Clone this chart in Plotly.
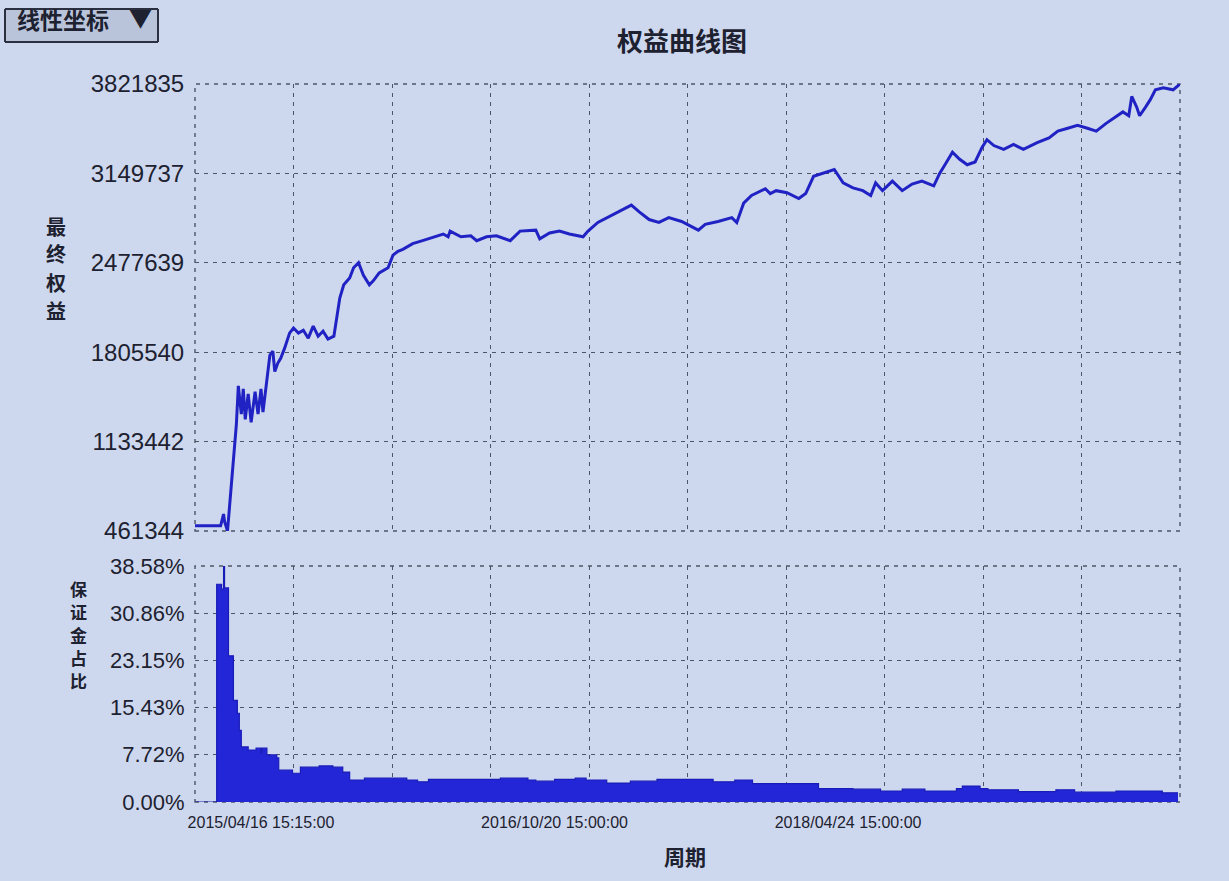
"""Equity curve with margin ratio panel (period index on x)."""

import plotly.graph_objects as go

# period index (0..1000 across the whole axis) and final equity
equity_period = [
    0, 26, 29, 30, 33, 42, 44, 47, 49, 51, 54, 57, 61, 64, 67, 69,
    76, 79, 81, 84, 87, 91, 96, 100, 105, 110, 115, 120, 125, 130, 135, 141,
    147, 151, 157, 161, 166, 171, 177, 181, 187, 196, 201, 206, 211, 221, 231, 241,
    252, 257, 259, 270, 280, 286, 296, 306, 320, 330, 346, 350, 360, 370, 380, 394,
    399, 409, 424, 443, 451, 461, 471, 481, 494, 504, 511, 518, 531, 545, 550, 557,
    565, 579, 584, 590, 601, 613, 620, 628, 638, 649, 658, 668, 678, 686, 691, 698,
    708, 718, 728, 738, 750, 756, 762, 769, 776, 784, 792, 799, 804, 811, 821, 831,
    841, 855, 867, 876, 886, 896, 906, 915, 925, 935, 942, 948, 951, 956, 959, 965,
    970, 975, 983, 993, 1000,
]
equity = [
    500000, 500000, 589000, 533000, 461344, 1263000, 1553000, 1340000, 1530000, 1301000,
    1492000, 1278000, 1508000, 1340000, 1530000, 1355000,
    1783000, 1813000, 1660000, 1722000, 1760000, 1836000, 1949000, 1987000, 1949000, 1971000,
    1911000, 2002000, 1926000, 1964000, 1904000, 1926000,
    2213000, 2312000, 2364000, 2440000, 2478000, 2383000, 2312000, 2342000, 2402000, 2440000,
    2535000, 2564000, 2579000, 2622000, 2644000, 2666000,
    2694000, 2673000, 2716000, 2673000, 2680000, 2644000, 2673000, 2680000, 2644000, 2716000,
    2723000, 2658000, 2702000, 2716000, 2694000, 2673000,
    2716000, 2781000, 2839000, 2911000, 2861000, 2803000, 2781000, 2817000, 2788000, 2752000,
    2723000, 2767000, 2788000, 2817000, 2781000, 2926000,
    2984000, 3034000, 2998000, 3020000, 3005000, 2961000, 2998000, 3128000, 3150000, 3179000,
    3078000, 3041000, 3020000, 2984000, 3078000, 3020000,
    3092000, 3020000, 3070000, 3092000, 3056000, 3150000, 3222000, 3309000, 3258000, 3215000,
    3236000, 3345000, 3403000, 3359000, 3330000, 3367000,
    3330000, 3381000, 3417000, 3468000, 3489000, 3511000, 3489000, 3468000, 3526000, 3576000,
    3612000, 3583000, 3728000, 3648000, 3583000, 3648000,
    3706000, 3778000, 3793000, 3778000, 3821835,
]

# margin ratio (%) - each value holds until the next period
margin_period = [
    0, 22, 27, 29, 30, 34, 39, 43, 45, 47, 54, 62, 67, 68, 73, 83,
    85, 99, 107, 126, 140, 150, 157, 172, 215, 226, 237, 310, 338, 346, 365, 386,
    397, 418, 442, 469, 526, 548, 566, 633, 668, 696, 718, 741, 773, 779, 797, 805,
    836, 874, 893, 935, 982, 998,
]
margin_pct = [
    0, 35.6, 34.8, 38.58, 35.0, 23.9, 16.6, 14.5, 11.7, 9.0, 8.5, 8.8, 8.0, 8.8, 7.7, 7.2,
    5.2, 4.7, 5.7, 5.9, 5.7, 4.9, 3.6, 3.9, 3.6, 3.3, 3.7, 3.9, 3.6, 3.4, 3.7, 3.9,
    3.6, 3.1, 3.4, 3.7, 3.3, 3.6, 3.0, 2.2, 2.1, 1.8, 2.1, 1.8, 2.2, 2.6, 2.2, 2.0,
    1.7, 2.0, 1.6, 1.8, 1.5, 1.5,
]

equity_ticks = [461344, 1133442, 1805540, 2477639, 3149737, 3821835]
margin_ticks = [0.0, 7.72, 15.43, 23.15, 30.86, 38.58]
period_tickvals = [67, 365, 663]
period_ticktext = ["2015/04/16 15:15:00", "2016/10/20 15:00:00", "2018/04/24 15:00:00"]
grid_vals = list(range(0, 1001, 100))

BG = "#cdd8ee"
INK = "#1d2130"
GRID = "#4d5566"
BLUE = "#2326d6"
CJK = "Noto Sans CJK SC"
DASH = "4px,5px"
W, H = 1229, 881
L_PX, R_PX, T_PX, B_PX = 195, 1180, 84, 802

fig = go.Figure()
fig.add_trace(go.Scatter(
    x=equity_period, y=equity, mode="lines",
    line={"color": "#2022c4", "width": 3},
    xaxis="x", yaxis="y", name="最终权益",
))
fig.add_trace(go.Scatter(
    x=margin_period, y=margin_pct, mode="lines",
    line={"color": "#1a1cb8", "width": 1.2, "shape": "hv"},
    fill="tozeroy", fillcolor=BLUE,
    xaxis="x2", yaxis="y2", name="保证金占比",
))

grid_minor = {
    "tickvals": grid_vals, "showgrid": True, "gridcolor": GRID,
    "griddash": DASH, "gridwidth": 1.4, "ticks": "",
}
xcommon = dict(range=[0, 1000], showline=False, zeroline=False, showgrid=False,
               minor=grid_minor)
plot_h = B_PX - T_PX
plot_w = R_PX - L_PX
top_lo = (B_PX - 531) / plot_h
bot_hi = (B_PX - 566) / plot_h

fig.update_layout(
    width=W, height=H,
    margin={"l": L_PX, "r": W - R_PX, "t": T_PX, "b": H - B_PX, "pad": 0,
            "autoexpand": False},
    paper_bgcolor=BG, plot_bgcolor=BG,
    showlegend=False,
    font={"family": "Liberation Sans, Arial, sans-serif", "color": INK},
    title={
        "text": "<b>权益曲线图</b>", "x": 682 / W, "xref": "container",
        "y": 1 - 42 / H, "yref": "container", "xanchor": "center", "yanchor": "middle",
        "font": {"family": CJK, "size": 26, "color": INK},
    },
    xaxis=dict(xcommon, domain=[0, 1], anchor="y", showticklabels=False),
    xaxis2=dict(
        xcommon, domain=[0, 1], anchor="y2",
        tickmode="array", tickvals=period_tickvals, ticktext=period_ticktext,
        ticks="outside", ticklen=6, tickcolor="rgba(0,0,0,0)",
        tickfont={"size": 16},
    ),
    yaxis=dict(
        domain=[top_lo, 1], anchor="x", range=[equity_ticks[0], equity_ticks[-1]],
        tickmode="array", tickvals=equity_ticks, ticktext=[str(v) for v in equity_ticks],
        showgrid=True, gridcolor=GRID, griddash=DASH, gridwidth=1.4,
        zeroline=False, showline=False, ticks="outside", ticklen=5,
        tickcolor="rgba(0,0,0,0)", tickfont={"size": 24},
    ),
    yaxis2=dict(
        domain=[0, bot_hi], anchor="x2", range=[0, margin_ticks[-1]],
        tickmode="array", tickvals=margin_ticks, ticktext=[f"{v:.2f}%" for v in margin_ticks],
        showgrid=True, gridcolor=GRID, griddash=DASH, gridwidth=1.4,
        zeroline=False, showline=False, ticks="outside", ticklen=5,
        tickcolor="rgba(0,0,0,0)", tickfont={"size": 22},
    ),
    updatemenus=[{
        "type": "dropdown", "direction": "down", "showactive": True,
        "x": (3 - L_PX) / plot_w, "xanchor": "left",
        "y": 1 + (T_PX - 7) / plot_h, "yanchor": "top",
        "pad": {"l": 0, "r": 0, "t": 0, "b": 0},
        "bgcolor": "#b9c4da", "bordercolor": "#2b3040", "borderwidth": 2,
        "font": {"family": CJK, "size": 23, "color": INK},
        "buttons": [
            {"label": "<b>线性坐标</b>\u00a0\u00a0\u00a0\u00a0", "method": "relayout",
             "args": [{"yaxis.type": "linear"}]},
            {"label": "<b>对数坐标</b>\u00a0\u00a0\u00a0\u00a0", "method": "relayout",
             "args": [{"yaxis.type": "log"}]},
        ],
    }],
)

# dashed frame around each panel (edge grid lines are not drawn by plotly)
for xr, yr in (("x domain", "y domain"), ("x2 domain", "y2 domain")):
    fig.add_shape(type="rect", xref=xr, yref=yr, x0=0, x1=1, y0=0, y1=1,
                  line={"color": GRID, "width": 1.4, "dash": DASH}, layer="below")


def stacked_title(text, x_px, y_top_px, step, size):
    # one upright character per row, as in the original vertical caption
    for i, ch in enumerate(text):
        fig.add_annotation(
            text=f"<b>{ch}</b>", xref="paper", yref="paper", showarrow=False,
            x=(x_px - L_PX) / plot_w, y=(B_PX - (y_top_px + i * step)) / plot_h,
            xanchor="center", yanchor="middle", borderpad=0,
            font={"family": CJK, "size": size, "color": INK},
        )


stacked_title("最终权益", 56, 226, 28, 20)
stacked_title("保证金占比", 78, 588, 23, 17)

fig.add_annotation(
    text="<b>周期</b>", xref="paper", yref="paper", showarrow=False,
    x=(685 - L_PX) / plot_w, y=(B_PX - 856) / plot_h,
    xanchor="center", yanchor="middle",
    font={"family": CJK, "size": 21, "color": INK},
)

fig.write_html(
    "out.html",
    config={"displayModeBar": False},
    post_script=(
        "document.body.style.margin='0';"
        f"document.body.style.background='{BG}';"
    ),
)
